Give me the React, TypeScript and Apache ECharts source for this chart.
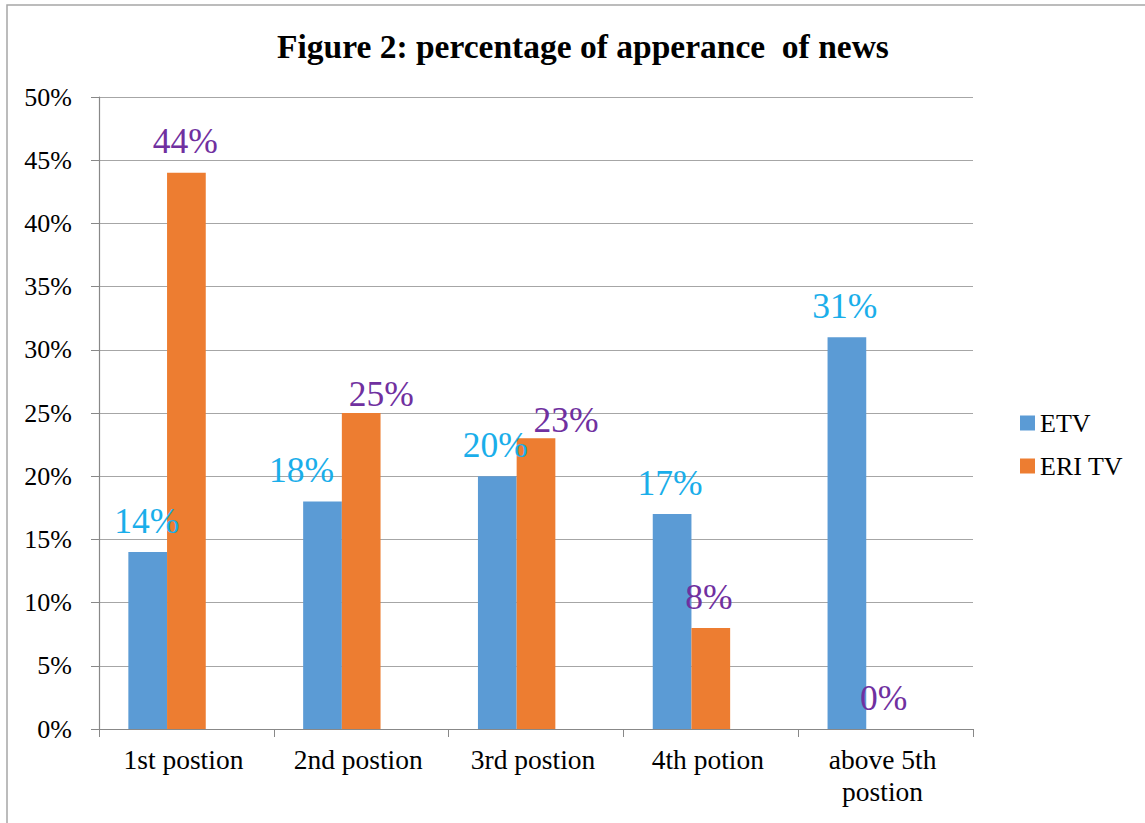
import React, { useEffect, useRef } from "react";
import * as echarts from "echarts";

const titleText = "Figure 2: percentage of apperance  of news";
const categories = ["1st postion", "2nd postion", "3rd postion", "4th potion", "above 5th\npostion"];
const etvValues = [14, 18, 20, 17, 31];
const eriValues = [44, 25, 23, 8, 0];
// manual label offsets as seen in the reference (x, y)
const etvLabelOffsets = [[-1, 0], [-21, 0], [-2, 0], [-2, 0], [-2, 0]];
const eriLabelOffsets = [[-1, -1], [20, 12], [30, 13], [-2, 0], [-2, 0]];
const yTicks = [0, 5, 10, 15, 20, 25, 30, 35, 40, 45, 50];

const FONT = "'Liberation Serif', 'Times New Roman', serif";

export default function App() {
  const ref = useRef<HTMLDivElement>(null);
  useEffect(() => {
    if (!ref.current) return;
    const chart = echarts.init(ref.current, null, { renderer: "svg" });
    const mkData = (vals: number[], offs: number[][]) =>
      vals.map((v, i) => ({ value: v, label: { offset: offs[i] } }));
    chart.setOption({
      animation: false,
      backgroundColor: "#ffffff",
      textStyle: { fontFamily: FONT },
      title: {
        text: titleText,
        left: 272,
        top: 24,
        textStyle: { fontFamily: FONT, fontSize: 33.5, fontWeight: "bold", color: "#000" },
      },
      graphic: [
        {
          type: "rect",
          shape: { x: 7, y: 5, width: 1300, height: 1000 },
          style: { fill: "none", stroke: "#a6a6a6", lineWidth: 1.5 },
          silent: true,
          z: 100,
        },
      ],
      legend: {
        orient: "vertical",
        left: 1015,
        top: 405,
        itemWidth: 15,
        itemHeight: 15,
        itemGap: 17,
        icon: "rect",
        data: ["ETV", "ERI TV"],
        textStyle: { fontFamily: FONT, fontSize: 26, color: "#000" },
      },
      grid: { left: 99, right: 172, top: 97, bottom: 94, containLabel: false },
      xAxis: {
        type: "category",
        data: categories,
        axisLine: { lineStyle: { color: "#888", width: 1.2 } },
        axisTick: { show: true, length: 8, lineStyle: { color: "#888" } },
        axisLabel: {
          fontFamily: FONT,
          fontSize: 27.5,
          color: "#000",
          margin: 14,
          lineHeight: 32,
          interval: 0,
          padding: [0, 6, 0, 0],
        },
      },
      yAxis: {
        type: "value",
        min: 0,
        max: 50,
        interval: 5,
        axisLine: { show: true, lineStyle: { color: "#888", width: 1.2 } },
        axisTick: { show: true, length: 8, lineStyle: { color: "#888" } },
        splitLine: { lineStyle: { color: "#a6a6a6", width: 1.2 } },
        axisLabel: {
          fontFamily: FONT,
          fontSize: 26,
          color: "#000",
          margin: 27,
          formatter: (v: number) => (yTicks.includes(v) ? v + "%" : ""),
        },
      },
      series: [
        {
          name: "ETV",
          type: "bar",
          barWidth: 38.7,
          barGap: "0%",
          itemStyle: { color: "#5B9BD5" },
          label: {
            show: true,
            position: "top",
            distance: 13,
            fontFamily: FONT,
            fontSize: 35.5,
            color: "#1AAEEA",
            formatter: "{c}%",
          },
          data: mkData(etvValues, etvLabelOffsets),
        },
        {
          name: "ERI TV",
          type: "bar",
          barWidth: 38.7,
          barGap: "0%",
          itemStyle: { color: "#ED7D31" },
          label: {
            show: true,
            position: "top",
            distance: 13,
            fontFamily: FONT,
            fontSize: 35.5,
            color: "#7030A0",
            formatter: "{c}%",
          },
          data: mkData(eriValues, eriLabelOffsets),
        },
        {
          name: "hidden",
          type: "bar",
          barWidth: 38.7,
          barGap: "0%",
          data: categories.map(() => "-"),
        },
      ],
    });
    return () => chart.dispose();
  }, []);
  return (
    <div
      ref={ref}
      style={{ position: "fixed", left: 0, top: 0, width: 1145, height: 823 }}
    />
  );
}
